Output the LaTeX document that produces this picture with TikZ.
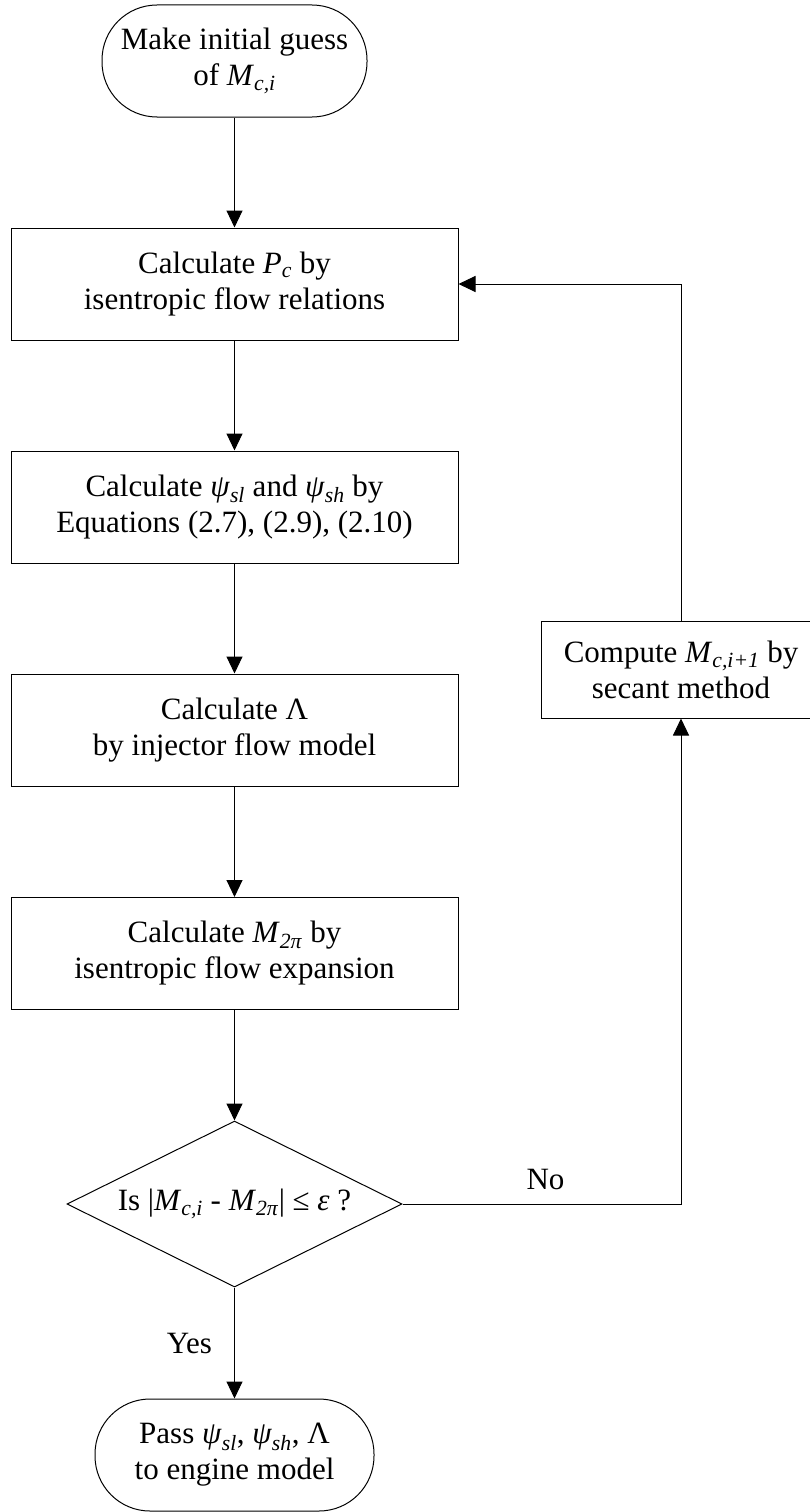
\documentclass[tikz,border=0pt]{standalone}
\usepackage{fontspec}
\setmainfont{Liberation Serif}
\usetikzlibrary{shapes.geometric,arrows.meta}
\newcommand{\sbs}[1]{\textsubscript{\textit{#1}}}
\begin{document}
\begin{tikzpicture}[x=1pt,y=-1pt,
  every node/.style={font=\fontsize{31}{36}\selectfont, align=center, inner sep=0pt},
  procbox/.style={draw, line width=1pt, minimum width=447pt, minimum height=112pt},
  term/.style={draw, line width=1pt, rounded corners=55pt, minimum height=112pt},
  decis/.style={draw, line width=1pt, diamond, minimum width=335pt, minimum height=166pt, inner sep=0pt},
  conn/.style={draw, line width=1pt, -{Triangle[length=17pt,width=16pt]}},
  lbl/.style={font=\fontsize{31}{36}\selectfont}]
\useasboundingbox (0,0) rectangle (810,1512);
\clip (0,0) rectangle (810,1512);
\node[term, minimum width=265pt] (start) at (234.5,61) {Make initial guess\\of \textit{M}\sbs{c,i}};
\node[procbox] (b1) at (234.5,284) {Calculate \textit{P}\sbs{c} by\\isentropic flow relations};
\node[procbox] (b2) at (234.5,507) {Calculate \textit{ψ}\sbs{sl} and \textit{ψ}\sbs{sh} by\\Equations (2.7), (2.9), (2.10)};
\node[procbox] (b3) at (234.5,730) {Calculate Λ\\by injector flow model};
\node[procbox] (b4) at (234.5,953.5) {Calculate \textit{M}\sbs{2π} by\\isentropic flow expansion};
\node[decis] (d) at (234.5,1204) {};
\node[lbl] (dt) at (d.center) {Is |\textit{M}\sbs{c,i} - \textit{M}\sbs{2π}| ≤ \textit{ε} ?};
\node[term, minimum width=279pt] (end) at (234.5,1455) {Pass \textit{ψ}\sbs{sl}, \textit{ψ}\sbs{sh}, Λ\\to engine model};
\node[draw, line width=1pt, minimum width=280pt, minimum height=97pt] (r) at (681,669.5) {Compute \textit{M}\sbs{c,i+1} by\\secant method};
\coordinate (dr) at (681,1204);
\coordinate (rt) at (681,284);
\draw[conn] (start) -- (b1);
\draw[conn] (b1) -- (b2);
\draw[conn] (b2) -- (b3);
\draw[conn] (b3) -- (b4);
\draw[conn] (b4) -- (d.north);
\draw[conn] (d.south) -- (end);
\draw[conn] (d.east) -- (dr) -- (r.south);
\draw[conn] (r.north) -- (rt) -- (b1.east);
\node[lbl] (yes) at (189.5,1343) {Yes};
\node[lbl] (no) at (545.5,1179) {No};
\end{tikzpicture}
\end{document}
